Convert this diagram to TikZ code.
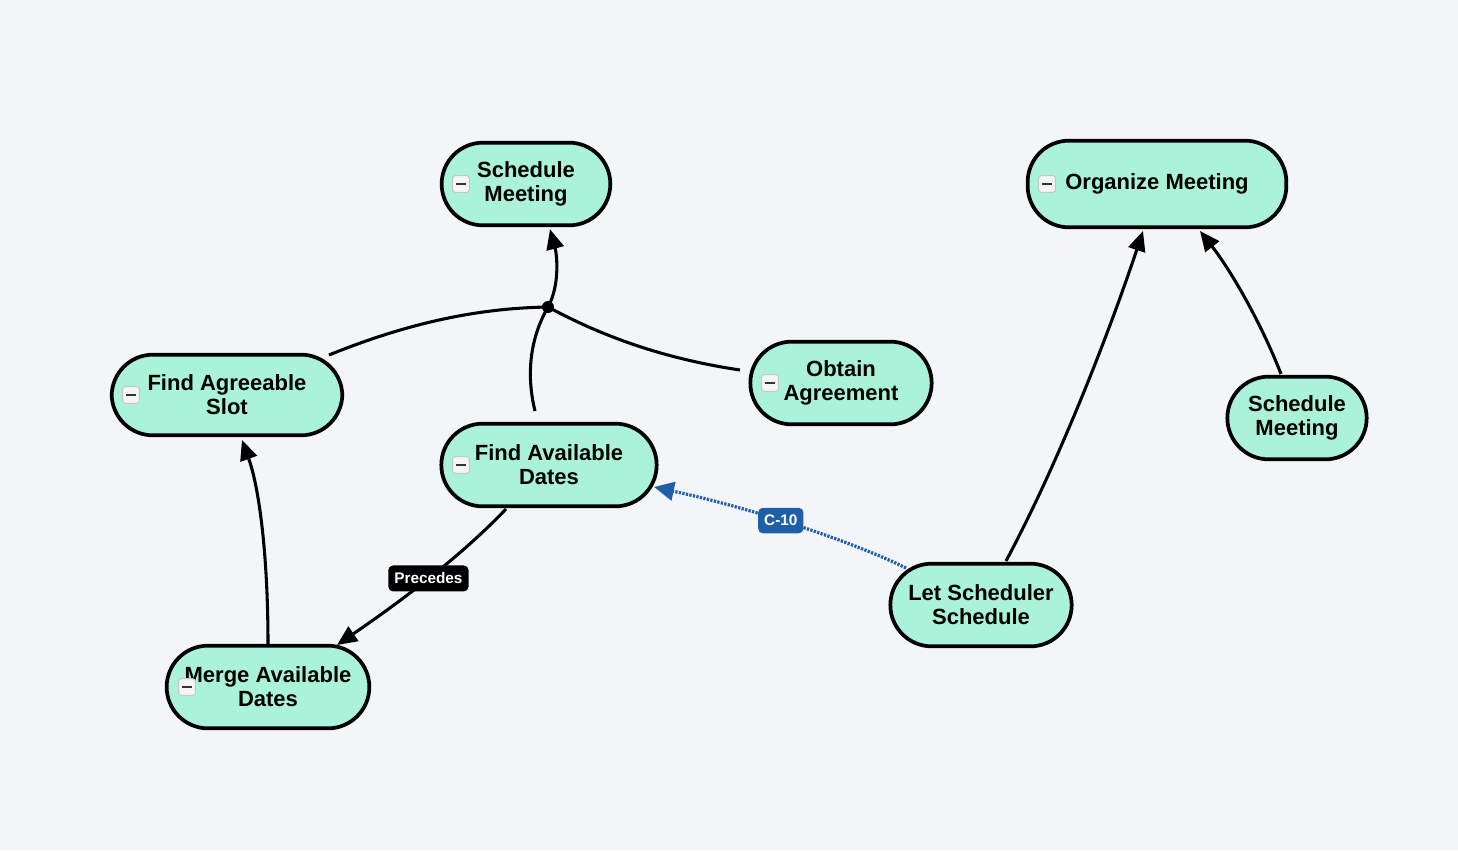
\documentclass[tikz,border=0pt]{standalone}
\usepackage{fontspec}
\setmainfont{Liberation Sans}
\usetikzlibrary{arrows.meta,calc}
\definecolor{bg}{HTML}{F3F6F9}
\definecolor{mint}{HTML}{AAF2DA}
\definecolor{cblue}{HTML}{1F5FA8}
\tikzset{
  topic/.style={draw=black, line width=2.8pt, fill=mint, rounded corners=31pt,
    align=center, inner sep=0pt, font=\fontsize{16.5}{18}\selectfont\bfseries,
    minimum height=62pt},
  minusicon/.style={draw=gray!45, fill=gray!8, line width=0.7pt, rounded corners=2pt,
    minimum size=12.5pt, inner sep=0pt,
    path picture={\draw[line width=1.9pt, black!80] ([xshift=-3.5pt]path picture bounding box.center) -- ([xshift=3.5pt]path picture bounding box.center);}},
  conn/.style={line width=2.3pt, black},
  arr/.style={conn, -{Triangle[length=15pt,width=13pt]}},
  blab/.style={fill=black, text=white, rounded corners=3.5pt, inner xsep=4.5pt, inner ysep=5.5pt,
    font=\fontsize{11.5}{12}\selectfont\bfseries},
  clab/.style={fill=cblue, text=white, rounded corners=3.5pt, inner xsep=4.5pt, inner ysep=5.5pt,
    font=\fontsize{11.5}{12}\selectfont\bfseries},
}
\begin{document}
\begin{tikzpicture}[x=0.75pt, y=-0.75pt]
\useasboundingbox[fill=bg] (0,0) rectangle (1458,850);

% nodes
\node[topic, minimum width=126.5pt] (sm1) at (526,184) {Schedule\\Meeting};
\node[topic, minimum width=194pt, minimum height=65pt] (om) at (1157,184) {Organize Meeting};
\node[topic, minimum width=173pt, minimum height=60.5pt] (fas) at (227,395) {Find Agreeable\\Slot};
\node[topic, minimum width=136pt] (oa) at (841,383) {Obtain\\Agreement};
\node[topic, minimum width=161.5pt] (fad) at (549,465) {Find Available\\Dates};
\node[topic, minimum width=104.5pt] (sm2) at (1297,418) {Schedule\\Meeting};
\node[topic, minimum width=136pt] (lss) at (981,605) {Let Scheduler\\Schedule};
\node[topic, minimum width=152pt] (mad) at (268,687) {Merge Available\\Dates};

% collapse icons
\node[minusicon] (i1) at (461,184) {};
\node[minusicon] (i2) at (1047,184) {};
\node[minusicon] (i3) at (131,395) {};
\node[minusicon] (i4) at (770,383) {};
\node[minusicon] (i5) at (461,465) {};
\node[minusicon] (i6) at (187,687) {};

% junction
\coordinate (j) at (548,307);
\node[circle, fill=black, minimum size=9pt, inner sep=0pt] (jd) at (j) {};

% connectors to junction
\draw[conn] ($(fas.center)+(102,-40)$) .. controls (420,318) and (490,308) .. (j);
\draw[conn] ($(oa.center)+(-101,-13)$) .. controls (660,358) and (600,335) .. (j);
\draw[conn] ($(fad.center)+(-14,-54)$) .. controls (525,370) and (532,335) .. (j);
\draw[arr] (j) .. controls (560,285) and (557,255) .. ($(sm1.south)+(24,2)$);

% other connectors
\draw[arr] (mad.north) .. controls (268,560) and (260,490) .. ($(fas.center)+(15,45)$);
\draw[arr] ($(fad.center)+(-43,44)$) .. controls (465,552) and (410,595) .. node[blab, pos=0.53] (lp) {Precedes} ($(mad.center)+(69,-42)$);
\draw[arr] ($(lss.center)+(25,-44)$) .. controls (1060,460) and (1110,330) .. ($(om.center)+(-14,47)$);
\draw[arr] ($(sm2.center)+(-16,-44)$) .. controls (1262,325) and (1232,272) .. ($(om.center)+(43,47)$);
\draw[line width=2.4pt, cblue, dash pattern=on 1.7pt off 1pt, -{Triangle[length=15pt,width=14pt,fill=cblue]}]
  ($(lss.center)+(-75,-37)$) .. controls (860,545) and (760,510) .. node[clab, pos=0.58, solid] (lc) {C-10} ($(fad.center)+(105,22)$);
\end{tikzpicture}
\end{document}
